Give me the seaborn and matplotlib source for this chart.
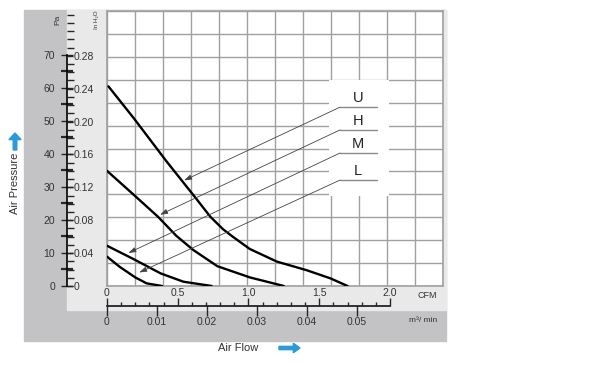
import numpy as np
import pandas as pd
import matplotlib
matplotlib.use("Agg")
import matplotlib.pyplot as plt
from matplotlib.patches import Rectangle, FancyArrow
from matplotlib.ticker import MultipleLocator, FixedLocator
import seaborn as sns

# ================= DATA =================
speeds = ["U", "H", "M", "L"]

flow_u = [0.01, 0.19, 0.42, 0.63, 0.73, 0.82, 0.89, 1.01, 1.20, 1.41, 1.58, 1.70]
pres_u = [60.5, 50.8, 37.8, 26.5, 21.0, 17.2, 14.9, 11.2, 7.4, 4.8, 2.3, 0.0]

flow_h = [0.0, 0.19, 0.36, 0.49, 0.61, 0.78, 1.01, 1.25]
pres_h = [34.9, 27.6, 21.0, 15.2, 10.9, 6.0, 2.6, 0.0]

flow_m = [0.0, 0.19, 0.38, 0.54, 0.74]
pres_m = [12.2, 8.1, 3.8, 1.3, 0.0]

flow_l = [0.0, 0.09, 0.20, 0.28, 0.39]
pres_l = [8.9, 5.8, 2.6, 0.8, 0.0]

cfm_ticks = [0, 0.5, 1.0, 1.5, 2.0]
cfm_labels = ["0", "0.5", "1.0", "1.5", "2.0"]
m3_ticks = [0, 0.01, 0.02, 0.03, 0.04, 0.05]
m3_labels = ["0", "0.01", "0.02", "0.03", "0.04", "0.05"]
pa_ticks = [0, 10, 20, 30, 40, 50, 60, 70]
inh2o_ticks = [0, 0.04, 0.08, 0.12, 0.16, 0.20, 0.24, 0.28]
inh2o_labels = ["0", "0.04", "0.08", "0.12", "0.16", "0.20", "0.24", "0.28"]

# ================= CONFIG =================
W, H = 605, 366
XMAX = 2.3746          # CFM at right edge of plot
YMAX = 83.33           # Pa at top edge of plot
PA_PER_INH2O = 249.09
M3_PER_CFM = 0.0283168

GRID_C = "#a0a0a0"
DARK_BG = "#c3c3c6"
LIGHT_BG = "#e9e9e9"
TXT_C = "#333333"

sns.set_style("white")
plt.rcParams["font.family"] = ["Liberation Sans", "DejaVu Sans"]


def fx(px):
    return px / W


def fy(py):
    return 1 - py / H


df = pd.concat([
    pd.DataFrame({"flow": flow_u, "pressure": pres_u, "speed": "U"}),
    pd.DataFrame({"flow": flow_h, "pressure": pres_h, "speed": "H"}),
    pd.DataFrame({"flow": flow_m, "pressure": pres_m, "speed": "M"}),
    pd.DataFrame({"flow": flow_l, "pressure": pres_l, "speed": "L"}),
])

fig = plt.figure(figsize=(W / 100, H / 100), dpi=100)
fig.patch.set_facecolor("white")

# grey panels behind the chart
fig.patches.append(Rectangle((fx(24), fy(341)), fx(446) - fx(24), fy(10) - fy(341),
                             transform=fig.transFigure, color=DARK_BG, zorder=-2))
fig.patches.append(Rectangle((fx(67), fy(310)), fx(446) - fx(67), fy(10) - fy(310),
                             transform=fig.transFigure, color=LIGHT_BG, zorder=-1))

# ================= MAIN PLOT =================
left, right, top, bottom = 107, 443, 11, 286
ax = fig.add_axes([fx(left), fy(bottom), fx(right) - fx(left), fy(top) - fy(bottom)])
ax.set_facecolor("white")
ax.set_xlim(0, XMAX)
ax.set_ylim(0, YMAX)
ax.set_xticks(np.linspace(0, XMAX, 13))
ax.set_yticks(np.linspace(0, YMAX, 13))
ax.tick_params(length=0, labelbottom=False, labelleft=False)
ax.grid(True, color=GRID_C, lw=1.0)
for s in ax.spines.values():
    s.set_color(GRID_C)
    s.set_linewidth(1.2)

# white label box that breaks the grid
ax.add_patch(Rectangle((1.572, 27.3), 0.418, 35.0, facecolor="white",
                       edgecolor="none", zorder=1.5))

sns.lineplot(data=df, x="flow", y="pressure", units="speed", estimator=None,
             color="black", lw=1.7, sort=False, ax=ax, zorder=3, legend=False)
ax.set_xlabel("")
ax.set_ylabel("")

# callouts
label_y = [54.2, 47.3, 40.3, 32.1]
tips = [(0.545, 32.0), (0.375, 21.6), (0.151, 10.0), (0.228, 4.1)]
for name, ly, (tx, ty) in zip(speeds, label_y, tips):
    ax.plot([1.647, 1.908], [ly, ly], color="#8a8a8a", lw=1.0, zorder=4)
    ax.text(1.774, ly + 0.6, name, ha="center", va="bottom", fontsize=10.5,
            color="#222222", zorder=4)
    ax.annotate("", xy=(tx, ty), xytext=(1.647, ly),
                arrowprops=dict(arrowstyle="-|>,head_length=0.45,head_width=0.15",
                                color="#444444", lw=0.6, shrinkA=0, shrinkB=0),
                zorder=4)

# ================= PRESSURE SCALE =================
ax_pa = fig.add_axes([fx(67), fy(bottom), 1e-5, fy(top) - fy(bottom)])
ax_pa.set_ylim(0, YMAX)
ax_pa.patch.set_visible(False)
for s in ["top", "right", "bottom"]:
    ax_pa.spines[s].set_visible(False)
ax_pa.spines["left"].set_bounds(0, 70)
ax_pa.spines["left"].set_color("black")
ax_pa.spines["left"].set_linewidth(1.2)
ax_pa.set_xticks([])
ax_pa.yaxis.set_major_locator(FixedLocator(pa_ticks))
ax_pa.yaxis.set_minor_locator(FixedLocator([5, 15, 25, 35, 45, 55, 65]))
ax_pa.tick_params(axis="y", which="major", direction="inout", length=9, width=1.0,
                  pad=4, labelsize=7.5, labelcolor=TXT_C)
ax_pa.tick_params(axis="y", which="minor", direction="inout", length=8, width=1.6)

ax_in = ax_pa.twinx()
ax_in.set_ylim(0, YMAX / PA_PER_INH2O)
ax_in.patch.set_visible(False)
for s in ax_in.spines.values():
    s.set_visible(False)
ax_in.yaxis.set_major_locator(FixedLocator(inh2o_ticks))
ax_in.set_yticklabels(inh2o_labels)
ax_in.yaxis.set_minor_locator(MultipleLocator(0.01))
ax_in.tick_params(axis="y", which="major", length=4, width=1.0, pad=1,
                  labelsize=7.5, labelcolor=TXT_C)
ax_in.tick_params(axis="y", which="minor", length=5, width=1.0)

fig.text(fx(58), fy(20), "Pa", rotation=90, ha="center", va="center",
         fontsize=6, color=TXT_C)
fig.text(fx(97), fy(20), "In H\u2082O", rotation=90, ha="center", va="center",
         fontsize=4.5, color=TXT_C)
fig.text(fx(15), fy(183), "Air Pressure", rotation=90, ha="center", va="center",
         fontsize=8, color=TXT_C)
fig.patches.append(FancyArrow(fx(15), fy(150), 0, fy(133) - fy(150), width=0.006,
                              head_width=0.02, head_length=0.018, length_includes_head=True,
                              transform=fig.transFigure, color="#2a9ad8"))

# ================= FLOW SCALE =================
ax_m3 = fig.add_axes([fx(left), fy(306), fx(right) - fx(left), 1e-5])
ax_m3.set_xlim(0, XMAX * M3_PER_CFM)
ax_m3.patch.set_visible(False)
for s in ["top", "left", "right"]:
    ax_m3.spines[s].set_visible(False)
ax_m3.spines["bottom"].set_bounds(0, 2.0 * M3_PER_CFM)
ax_m3.spines["bottom"].set_color("black")
ax_m3.spines["bottom"].set_linewidth(1.1)
ax_m3.set_yticks([])
ax_m3.xaxis.set_major_locator(FixedLocator(m3_ticks))
ax_m3.set_xticklabels(m3_labels)
ax_m3.tick_params(axis="x", which="major", length=7, width=1.0, pad=1,
                  labelsize=7.5, labelcolor=TXT_C)

ax_cfm = ax_m3.twiny()
ax_cfm.set_xlim(0, XMAX)
ax_cfm.patch.set_visible(False)
for s in ax_cfm.spines.values():
    s.set_visible(False)
ax_cfm.xaxis.set_major_locator(FixedLocator(cfm_ticks))
ax_cfm.set_xticklabels(cfm_labels)
ax_cfm.xaxis.set_minor_locator(FixedLocator(np.arange(0.1, 2.0, 0.1)))
ax_cfm.tick_params(axis="x", which="major", length=6, width=1.0, pad=0,
                   labelsize=7.5, labelcolor=TXT_C)
ax_cfm.tick_params(axis="x", which="minor", length=3, width=1.0)

fig.text(fx(427), fy(296), "CFM", ha="center", va="center", fontsize=6.5, color=TXT_C)
fig.text(fx(423), fy(321), "m\u00b3/ min", ha="center", va="center", fontsize=6,
         color=TXT_C)
fig.text(fx(238), fy(348), "Air Flow", ha="center", va="center", fontsize=8,
         color=TXT_C)
fig.patches.append(FancyArrow(fx(279), fy(348), fx(300) - fx(279), 0, width=0.009,
                              head_width=0.026, head_length=0.011, length_includes_head=True,
                              transform=fig.transFigure, color="#2a9ad8"))

fig.savefig("out.png", dpi=100)
